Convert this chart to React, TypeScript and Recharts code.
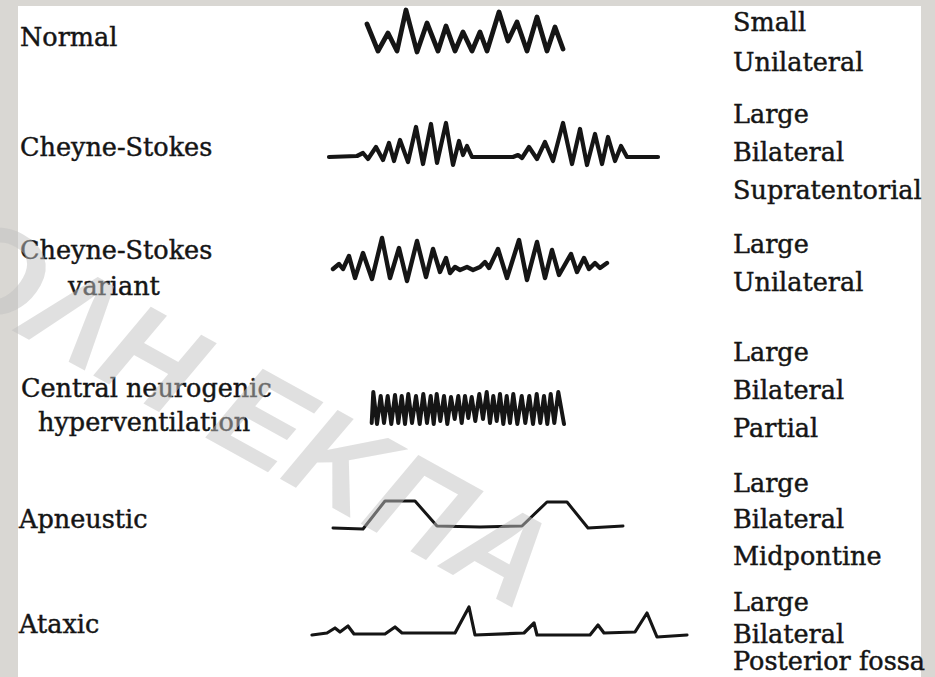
import { LineChart, Line, XAxis, YAxis } from "recharts";

// breathing traces: t = time (px units from trace start), v = amplitude above baseline
const normalT = [1, 12, 22, 31, 40, 51, 61, 72, 80, 89, 97, 106, 114, 121, 133, 142, 151, 161, 171, 181, 189, 197];
const normalV = [29, 2, 20, 2, 43, 1, 30, 2, 27, 2, 21, 2, 21, 2, 41, 12, 31, 2, 36, 2, 26, 4];

const cheyneT = [0, 28, 34, 39, 47, 54, 60, 65, 71, 79, 87, 94, 102, 108, 117, 124, 130, 134, 138, 143, 184, 189, 193, 200, 208, 216, 224, 234, 243, 251, 258, 266, 273, 279, 286, 292, 298, 329];
const cheyneV = [0, 1, 4, -2, 10, -3, 14, -4, 17, -5, 30, -7, 33, -6, 34, -8, 16, 2, 11, 0, 0, 2, -1, 10, -2, 15, -4, 34, -7, 28, -8, 23, -7, 20, -4, 11, 0, 0];

const variantT = [0, 6, 10, 16, 22, 30, 39, 49, 57, 66, 74, 84, 93, 100, 107, 113, 117, 122, 127, 134, 140, 147, 152, 156, 165, 174, 186, 194, 204, 212, 219, 226, 238, 244, 251, 256, 262, 267, 274];
const variantV = [-1, 4, -1, 12, -10, 15, -11, 30, -10, 20, -13, 27, -9, 19, -4, 10, -5, 1, -2, 1, -2, 1, 6, 0, 19, -10, 28, -12, 26, -10, 18, -7, 14, -4, 10, -1, 5, 0, 5];

const hyperT = [0.7, 2.3, 6, 9.7, 13, 16.7, 20.3, 24, 27.3, 30.7, 34, 37.3, 41, 45, 48.7, 52.3, 56, 59.7, 62.7, 65.7, 69.3, 73, 76.3, 80, 83.7, 87.3, 90.7, 94, 97.3, 100.7, 104.3, 108.3, 112, 115.7, 119, 122.3, 125.7, 129, 132.3, 135.7, 139, 142.3, 146.3, 150.7, 154.3, 158.3, 162, 165.7, 169.3, 173, 176.3, 179.7, 183.3, 187.3, 193];
const hyperV = [4, 35, 3, 31, 4, 31, 3, 32, 4, 31, 3, 33, 4, 31, 3, 33, 4, 31, 3, 33, 6, 31, 3, 30, 8, 31, 4, 31, 9, 30, 6, 33, 8, 35, 4, 31, 6, 33, 3, 31, 4, 33, 3, 31, 4, 31, 3, 33, 4, 31, 3, 33, 4, 35, 3];

const apneuT = [0, 30, 52, 82, 104, 147, 189, 214, 234, 255, 290];
const apneuV = [-1, -2, 26, 26, 1, 0, 1, 25, 25, -1, 1];

const ataxT = [0, 15, 23, 28, 36, 42, 73, 83, 90, 143, 157, 163, 212, 222, 225, 278, 286, 292, 323, 335, 345, 375];
const ataxV = [-1, 1, 6, 2, 8, 0, 0, 7, 1, 1, 27, -1, 1, 11, -1, -1, 9, 1, 2, 21, -3, -1];

const patternNames = [["Normal"], ["Cheyne-Stokes"], ["Cheyne-Stokes", "variant"], ["Central neurogenic", "hyperventilation"], ["Apneustic"], ["Ataxic"]];
const lesionNotes = [
  ["Small", "Unilateral"],
  ["Large", "Bilateral", "Supratentorial"],
  ["Large", "Unilateral"],
  ["Large", "Bilateral", "Partial"],
  ["Large", "Bilateral", "Midpontine"],
  ["Large", "Bilateral", "Posterior fossa"],
];

// layout (page px)
const rows = [
  { t: normalT, v: normalV, left: 366, base: 53, width: 4.8 },
  { t: cheyneT, v: cheyneV, left: 329, base: 157, width: 4.2 },
  { t: variantT, v: variantV, left: 333, base: 268, width: 4.4 },
  { t: hyperT, v: hyperV, left: 371, base: 427, width: 4 },
  { t: apneuT, v: apneuV, left: 333, base: 527, width: 3 },
  { t: ataxT, v: ataxV, left: 312, base: 634, width: 3.2 },
];
const nameLayout = [
  { x: [20], y: [46] },
  { x: [20], y: [156] },
  { x: [20, 68], y: [259, 295] },
  { x: [21, 38], y: [397, 431] },
  { x: [19], y: [528] },
  { x: [19], y: [633] },
];
const noteX = 733;
const noteY = [
  [31, 71],
  [123, 161, 199],
  [253, 291],
  [361, 399, 437],
  [492, 528, 565],
  [611, 643, 670],
];

const INK = "#151515";
const PAD = 6;
const UP = 50;
const DOWN = 20;

function Trace({ t, v, left, base, width }: { t: number[]; v: number[]; left: number; base: number; width: number }) {
  const data = t.map((x, i) => ({ t: x, v: v[i] }));
  const span = Math.max(...t);
  return (
    <div style={{ position: "absolute", left: left - PAD, top: base - UP }}>
      <LineChart width={span + PAD * 2} height={UP + DOWN} data={data} margin={{ top: 0, right: 0, bottom: 0, left: 0 }}>
        <XAxis type="number" dataKey="t" domain={[-PAD, span + PAD]} hide />
        <YAxis type="number" domain={[-DOWN, UP]} hide />
        <Line
          type="linear"
          dataKey="v"
          stroke={INK}
          strokeWidth={width}
          strokeLinejoin="round"
          strokeLinecap="round"
          dot={false}
          isAnimationActive={false}
        />
      </LineChart>
    </div>
  );
}

export default function App() {
  const font = { fontFamily: "'DejaVu Serif', serif", fontSize: 25.5, fill: INK, stroke: INK, strokeWidth: 0.45 };
  return (
    <div style={{ position: "absolute", left: 0, top: 0, width: 935, height: 677, background: "#d9d7d3", overflow: "hidden" }}>
      <div style={{ position: "absolute", left: 18, top: 6, width: 903, height: 671, background: "#fff" }} />
      {rows.map((r, i) => (
        <Trace key={i} {...r} />
      ))}
      <svg width={935} height={677} style={{ position: "absolute", left: 0, top: 0 }}>
        {patternNames.map((lines, i) =>
          lines.map((s, j) => (
            <text key={`n${i}${j}`} x={nameLayout[i].x[j]} y={nameLayout[i].y[j]} {...font}>
              {s}
            </text>
          ))
        )}
        {lesionNotes.map((lines, i) =>
          lines.map((s, j) => (
            <text key={`l${i}${j}`} x={noteX} y={noteY[i][j]} {...font}>
              {s}
            </text>
          ))
        )}
      </svg>
      <svg width={935} height={677} style={{ position: "absolute", left: 0, top: 0, pointerEvents: "none" }}>
        <text
          x={520}
          y={612}
          textAnchor="end"
          transform="rotate(29 520 612)"
          fontFamily="'Liberation Sans', sans-serif"
          fontWeight="bold"
          fontStyle="italic"
          fontSize={128}
          fill="#c2c2c2"
          fillOpacity={0.5}
        >
          ΙΑΤΡΙΚΗ ΣΧΟΛΗ ΕΚΠΑ
        </text>
      </svg>
    </div>
  );
}
